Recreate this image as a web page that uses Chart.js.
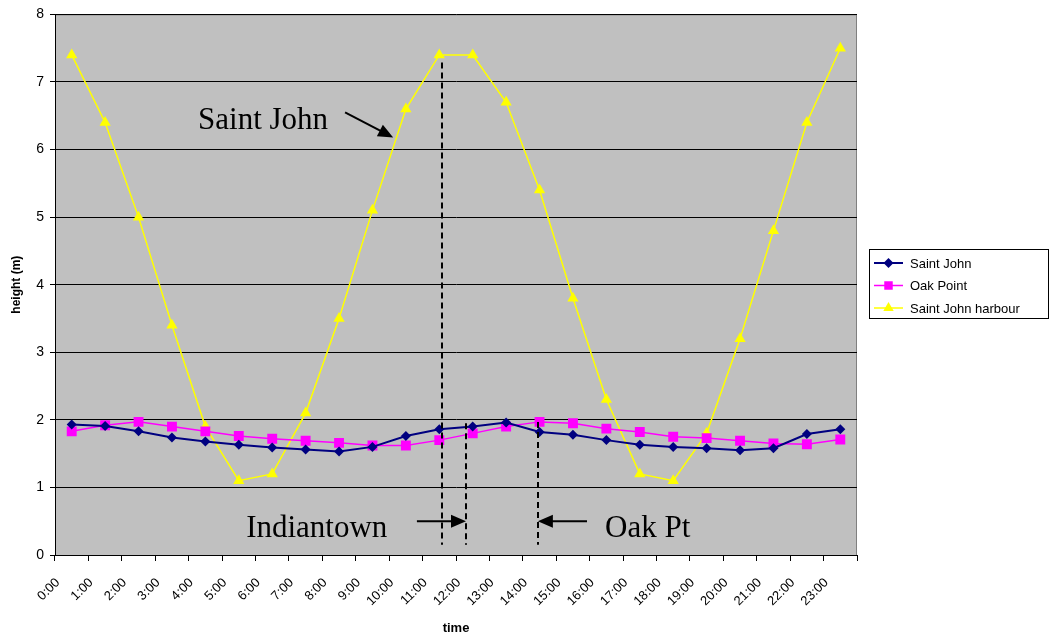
<!DOCTYPE html>
<html>
<head>
<meta charset="utf-8">
<script src="https://cdn.jsdelivr.net/npm/chart.js@4/dist/chart.umd.min.js"></script>
<style>
  html, body { margin: 0; padding: 0; background: #ffffff; }
  #wrap { width: 1053px; height: 640px; position: relative; }
</style>
</head>
<body>
<div id="wrap"><canvas id="chart" width="1053" height="640"></canvas></div>
<script>
// Hourly time labels
const hours = ['0:00','1:00','2:00','3:00','4:00','5:00','6:00','7:00','8:00','9:00','10:00','11:00',
               '12:00','13:00','14:00','15:00','16:00','17:00','18:00','19:00','20:00','21:00','22:00','23:00'];

// Water height (m) at each station
const saintJohn = [1.93, 1.91, 1.83, 1.74, 1.68, 1.63, 1.59, 1.56, 1.53, 1.60, 1.76, 1.86,
                   1.90, 1.96, 1.82, 1.78, 1.70, 1.63, 1.60, 1.58, 1.55, 1.58, 1.79, 1.86];
const oakPoint = [1.83, 1.92, 1.97, 1.90, 1.83, 1.76, 1.72, 1.69, 1.66, 1.62, 1.62, 1.70,
                  1.80, 1.90, 1.97, 1.95, 1.87, 1.82, 1.75, 1.73, 1.69, 1.65, 1.64, 1.71];
const harbour = [7.4, 6.4, 5.0, 3.4, 1.9, 1.1, 1.2, 2.1, 3.5, 5.1, 6.6, 7.4,
                 7.4, 6.7, 5.4, 3.8, 2.3, 1.2, 1.1, 1.8, 3.2, 4.8, 6.4, 7.5];

const yTicks = [0, 1, 2, 3, 4, 5, 6, 7, 8];

// Callouts placed in data units (category index, height)
const callouts = [
  { text: 'Saint John', x: 3.78, y: 6.30 },
  { text: 'Indiantown', x: 5.22, y: 0.27 },
  { text: 'Oak Pt', x: 15.96, y: 0.27 }
];
const arrows = [
  { from: [8.18, 6.55], to: [9.62, 6.18] },
  { from: [10.33, 0.50], to: [11.80, 0.50] },
  { from: [15.42, 0.50], to: [13.95, 0.50] }
];
const dashedMarks = [
  { x: 11.08, top: 7.29, bottom: 0.15 },
  { x: 11.80, top: 1.95, bottom: 0.15 },
  { x: 13.95, top: 1.97, bottom: 0.15 }
];

const SANS = '"Liberation Sans", Arial, sans-serif';
const SERIF = '"Liberation Serif", "Times New Roman", serif';

function xPix(scale, i) {
  const a = scale.getPixelForValue(0), b = scale.getPixelForValue(1);
  return a + (b - a) * i;
}

const plotBackground = {
  id: 'plotBackground',
  beforeDraw(chart) {
    const { ctx, chartArea: a } = chart;
    ctx.save();
    ctx.fillStyle = '#c0c0c0';
    ctx.fillRect(a.left, a.top, a.right - a.left, a.bottom - a.top);
    ctx.strokeStyle = '#808080';
    ctx.lineWidth = 1;
    ctx.beginPath();
    ctx.moveTo(a.left, a.top + 0.5);
    ctx.lineTo(a.right - 0.5, a.top + 0.5);
    ctx.lineTo(a.right - 0.5, a.bottom);
    ctx.stroke();
    ctx.restore();
  }
};

function arrowHead(ctx, x1, y1, x2, y2, len, half) {
  const ang = Math.atan2(y2 - y1, x2 - x1);
  ctx.beginPath();
  ctx.moveTo(x2, y2);
  ctx.lineTo(x2 - len * Math.cos(ang) + half * Math.sin(ang), y2 - len * Math.sin(ang) - half * Math.cos(ang));
  ctx.lineTo(x2 - len * Math.cos(ang) - half * Math.sin(ang), y2 - len * Math.sin(ang) + half * Math.cos(ang));
  ctx.closePath();
  ctx.fill();
}

const annotations = {
  id: 'annotations',
  afterDatasetsDraw(chart) {
    const { ctx } = chart;
    const xs = chart.scales.x, ys = chart.scales.y;
    ctx.save();
    ctx.fillStyle = '#000';
    ctx.strokeStyle = '#000';
    // dashed markers
    ctx.lineWidth = 2;
    ctx.setLineDash([6, 4]);
    dashedMarks.forEach(m => {
      const px = Math.round(xPix(xs, m.x));
      ctx.beginPath();
      ctx.moveTo(px, ys.getPixelForValue(m.top));
      ctx.lineTo(px, ys.getPixelForValue(m.bottom));
      ctx.stroke();
    });
    ctx.setLineDash([]);
    // arrows
    arrows.forEach(a => {
      const x1 = xPix(xs, a.from[0]), y1 = ys.getPixelForValue(a.from[1]);
      const x2 = xPix(xs, a.to[0]), y2 = ys.getPixelForValue(a.to[1]);
      const ang = Math.atan2(y2 - y1, x2 - x1);
      ctx.lineWidth = 2;
      ctx.beginPath();
      ctx.moveTo(x1, y1);
      ctx.lineTo(x2 - 12 * Math.cos(ang), y2 - 12 * Math.sin(ang));
      ctx.stroke();
      arrowHead(ctx, x1, y1, x2, y2, 15, 6.5);
    });
    // callout text
    ctx.font = '31px ' + SERIF;
    ctx.textAlign = 'left';
    ctx.textBaseline = 'alphabetic';
    callouts.forEach(c => {
      ctx.fillText(c.text, xPix(xs, c.x), ys.getPixelForValue(c.y));
    });
    ctx.restore();
  }
};

const boxedLegend = {
  id: 'boxedLegend',
  afterDraw(chart) {
    const { ctx } = chart;
    const left = 869, top = 249, w = 179, h = 69;
    ctx.save();
    ctx.fillStyle = '#ffffff';
    ctx.fillRect(left, top, w, h);
    ctx.strokeStyle = '#000';
    ctx.lineWidth = 1;
    ctx.strokeRect(left + 0.5, top + 0.5, w, h);
    ctx.font = '13px ' + SANS;
    ctx.textBaseline = 'middle';
    ctx.textAlign = 'left';
    chart.data.datasets.forEach((ds, i) => {
      const y = top + 14 + i * 22.5;
      ctx.strokeStyle = ds.borderColor;
      ctx.lineWidth = ds.borderWidth;
      ctx.beginPath();
      ctx.moveTo(left + 5, y);
      ctx.lineTo(left + 34, y);
      ctx.stroke();
      ctx.fillStyle = ds.pointBackgroundColor;
      ctx.strokeStyle = ds.pointBackgroundColor;
      Chart.helpers.drawPoint(ctx, {
        pointStyle: ds.pointStyle, radius: ds.legendRadius, borderWidth: 0, rotation: 0
      }, left + 19.5, y);
      ctx.fillStyle = '#000';
      ctx.fillText(ds.label, left + 41, y + 1);
    });
    ctx.restore();
  }
};

new Chart(document.getElementById('chart'), {
  type: 'line',
  data: {
    labels: hours,
    datasets: [
      {
        label: 'Saint John', data: saintJohn,
        borderColor: '#000080', backgroundColor: '#000080',
        pointBackgroundColor: '#000080', pointBorderColor: '#000080',
        borderWidth: 2, pointStyle: 'rectRot', pointRadius: 5, pointBorderWidth: 0,
        legendRadius: 5, tension: 0
      },
      {
        label: 'Oak Point', data: oakPoint,
        borderColor: '#ff00ff', backgroundColor: '#ff00ff',
        pointBackgroundColor: '#ff00ff', pointBorderColor: '#ff00ff',
        borderWidth: 1.5, pointStyle: 'rect', pointRadius: 7, pointBorderWidth: 0,
        legendRadius: 6, tension: 0
      },
      {
        label: 'Saint John harbour', data: harbour,
        borderColor: '#ffff00', backgroundColor: '#ffff00',
        pointBackgroundColor: '#ffff00', pointBorderColor: '#ffff00',
        borderWidth: 1.5, pointStyle: 'triangle', pointRadius: 6.5, pointBorderWidth: 0,
        legendRadius: 6, tension: 0
      }
    ]
  },
  options: {
    responsive: false,
    animation: false,
    layout: { padding: { top: 14, right: 196, left: 0, bottom: 0 } },
    plugins: { legend: { display: false }, tooltip: { enabled: false } },
    scales: {
      x: {
        type: 'category',
        offset: true,
        grid: { offset: true, drawOnChartArea: false, drawTicks: true, tickLength: 6, color: '#000' },
        border: { color: '#000', width: 1 },
        ticks: { color: '#000', font: { family: SANS, size: 13 }, minRotation: 45, maxRotation: 45, autoSkip: false, padding: 14, labelOffset: -14 },
        title: { display: true, text: 'time', color: '#000', font: { family: SANS, size: 13, weight: 'bold' }, padding: { top: 0, bottom: 4 } },
        afterFit(s) { s.height = 85; }
      },
      y: {
        min: 0, max: 8,
        afterBuildTicks(s) { s.ticks = yTicks.map(v => ({ value: v })); },
        grid: { color: '#000', drawTicks: true, tickLength: 5 },
        border: { color: '#000', width: 1 },
        ticks: { color: '#000', font: { family: SANS, size: 14 }, padding: 6 },
        title: { display: true, text: 'height (m)', color: '#000', font: { family: SANS, size: 12, weight: 'bold' }, padding: { top: 9, bottom: 4 } },
        afterFit(s) { s.width = 55; }
      }
    }
  },
  plugins: [plotBackground, annotations, boxedLegend]
});
</script>
</body>
</html>
